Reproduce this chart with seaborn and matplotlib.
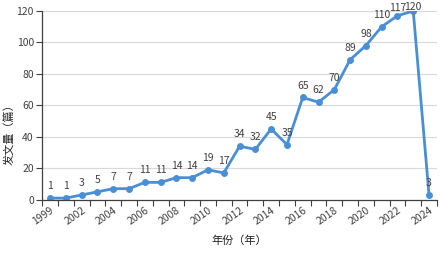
import numpy as np
import pandas as pd
import matplotlib
matplotlib.use("Agg")
import matplotlib.pyplot as plt
import seaborn as sns

years = ["1999", "2001", "2002", "2003", "2004", "2005", "2006", "2007", "2008",
         "2009", "2010", "2011", "2012", "2013", "2014", "2015", "2016", "2017",
         "2018", "2019", "2020", "2021", "2022", "2023", "2024"]
counts = [1, 1, 3, 5, 7, 7, 11, 11, 14, 14, 19, 17, 34, 32, 45, 35, 65, 62,
          70, 89, 98, 110, 117, 120, 3]

df = pd.DataFrame({"year": years, "count": counts})
df["pos"] = range(len(df))

sns.set_style("white")
plt.rcParams["font.family"] = ["Noto Sans CJK SC", "DejaVu Sans"]

fig, ax = plt.subplots(figsize=(4.4, 2.56), dpi=100)
fig.subplots_adjust(left=0.096, right=0.993, top=0.957, bottom=0.22)

blue = "#4A8FD6"
sns.lineplot(data=df, x="pos", y="count", ax=ax, color=blue, linewidth=2,
             marker="o", markersize=5, markeredgewidth=0)

# labels near the top get pushed down so they stay inside the figure
for p, v in zip(df["pos"], df["count"]):
    off = 5 if v < 115 else (2 if v < 120 else -1)
    ax.annotate(str(v), (p, v), xytext=(0, off), textcoords="offset points",
                ha="center", va="bottom", fontsize=7.5, color="#404040",
                annotation_clip=False)

ax.set_xlim(-0.5, len(years) - 0.5)
ax.set_ylim(0, 120)
ax.set_yticks(range(0, 121, 20))
ax.yaxis.grid(True, color="#d9d9d9", linewidth=0.8)
ax.set_axisbelow(True)

ax.set_xticks(df["pos"][::2])
ax.set_xticklabels(df["year"][::2], rotation=35, ha="right",
                   rotation_mode="anchor", fontsize=7.5, color="#404040")
ax.set_xticks(np.arange(-0.5, len(years), 1), minor=True)
ax.tick_params(axis="x", which="major", length=0, pad=4)
ax.tick_params(axis="x", which="minor", length=4, width=0.8, color="#404040",
               direction="out", bottom=True)
ax.tick_params(axis="y", length=4, width=0.8, color="#404040", direction="out",
               left=True, labelsize=7.5, labelcolor="#404040", pad=2)

for s in ["top", "right"]:
    ax.spines[s].set_visible(False)
for s in ["left", "bottom"]:
    ax.spines[s].set_color("#404040")
    ax.spines[s].set_linewidth(0.9)

ax.set_xlabel("年份（年）", fontsize=8, color="#222222", labelpad=6)
ax.set_ylabel("发文量（篇）", fontsize=8, color="#222222")
ax.yaxis.set_label_coords(-0.07, 0.36)

fig.savefig("out.png", dpi=100)
